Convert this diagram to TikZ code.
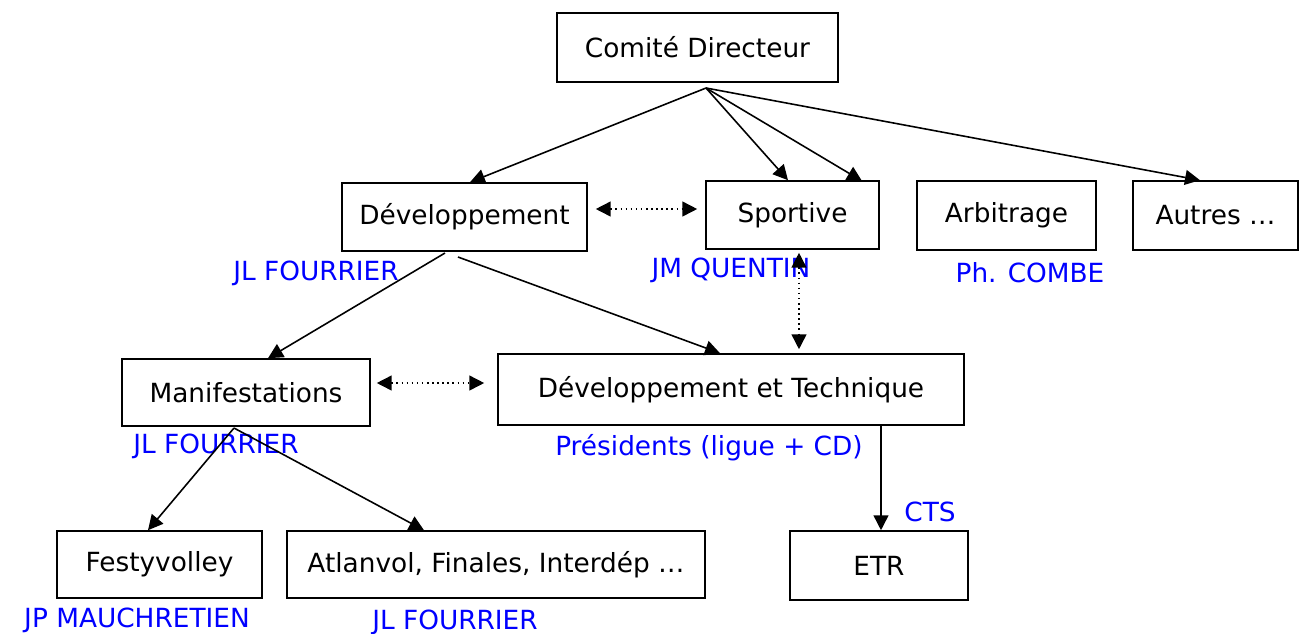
\documentclass[tikz,border=0pt]{standalone}
\usepackage{fontspec}
\setmainfont{DejaVu Sans}
\usetikzlibrary{arrows.meta,calc}
\begin{document}
\begin{tikzpicture}[x=0.02cm,y=-0.02cm,
    box/.style={rectangle,draw,line width=0.9pt,inner sep=0pt,font=\fontsize{15}{17}\selectfont},
    person/.style={text=blue,font=\fontsize{15}{17}\selectfont},
    link/.style={-{Triangle[width=8.5pt,length=8.5pt]},line width=0.9pt},
    both/.style={{Triangle[width=8.5pt,length=8.5pt]}-{Triangle[width=8.5pt,length=8.5pt]},line width=0.9pt,dotted}]
  \useasboundingbox (0,0) rectangle (1299,633);
  % boxes
  \node[box,minimum width=281*0.02cm,minimum height=69*0.02cm] (comite) at (697.5,47.5) {Comité Directeur};
  \node[box,minimum width=245*0.02cm,minimum height=68*0.02cm] (dev) at (464.5,217) {Développement};
  \node[box,minimum width=173*0.02cm,minimum height=68*0.02cm] (sport) at (792.5,215) {Sportive};
  \node[box,minimum width=179*0.02cm,minimum height=69*0.02cm] (arbit) at (1006.5,215.5) {Arbitrage};
  \node[box,minimum width=165*0.02cm,minimum height=69*0.02cm] (autres) at (1215.5,215.5) {Autres …};
  \node[box,minimum width=248*0.02cm,minimum height=67*0.02cm] (manif) at (246,392.5) {Manifestations};
  \node[box,minimum width=466*0.02cm,minimum height=71*0.02cm] (devtech) at (731,389.5) {Développement et Technique};
  \node[box,minimum width=205*0.02cm,minimum height=67*0.02cm] (festy) at (159.5,564.5) {Festyvolley};
  \node[box,minimum width=418*0.02cm,minimum height=67*0.02cm] (atlan) at (496,564.5) {Atlanvol, Finales, Interdép …};
  \node[box,minimum width=178*0.02cm,minimum height=69*0.02cm] (etr) at (879,565.5) {ETR};
  % names
  \node[person] (n1) at (316,273) {JL FOURRIER};
  \node[person] (n2) at (731,270) {JM QUENTIN};
  \node[person] (n3) at (1030,273) {Ph. COMBE};
  \node[person] (n4) at (216,446) {JL FOURRIER};
  \node[person] (n5) at (709,448) {Présidents (ligue + CD)};
  \node[person] (n6) at (930,512) {CTS};
  \node[person] (n7) at (137,620) {JP MAUCHRETIEN};
  \node[person] (n8) at (455,622) {JL FOURRIER};
  % connectors
  \coordinate (top) at (706,88);
  \coordinate (arbin) at (862,181);
  \coordinate (devout) at (445,253);
  \coordinate (devout2) at (458,257);
  \coordinate (manout) at (234,428);
  \draw[link] (top) to (dev.north -| 470,0);
  \draw[link] (top) to (sport.north -| 788,0);
  \draw[link] (top) to (arbin);
  \draw[link] (top) to (autres.north -| 1200,0);
  \draw[link] (devout) to (manif.north -| 268,0);
  \draw[link] (devout2) to (devtech.north -| 720,0);
  \draw[link] (manout) to (festy.north -| 148,0);
  \draw[link] (manout) to (atlan.north -| 424,0);
  \draw[link] (devtech.south -| 881,0) to (etr.north -| 881,0);
  \draw[both] ($(dev.east |- 0,209)+(8,0)$) to ($(sport.west |- 0,209)+(-8,0)$);
  \draw[both] ($(sport.south -| 799,0)+(0,3)$) to ($(devtech.north -| 799,0)+(0,-4)$);
  \draw[both] ($(manif.east |- 0,383)+(6,0)$) to ($(devtech.west |- 0,383)+(-13,0)$);
\end{tikzpicture}
\end{document}
